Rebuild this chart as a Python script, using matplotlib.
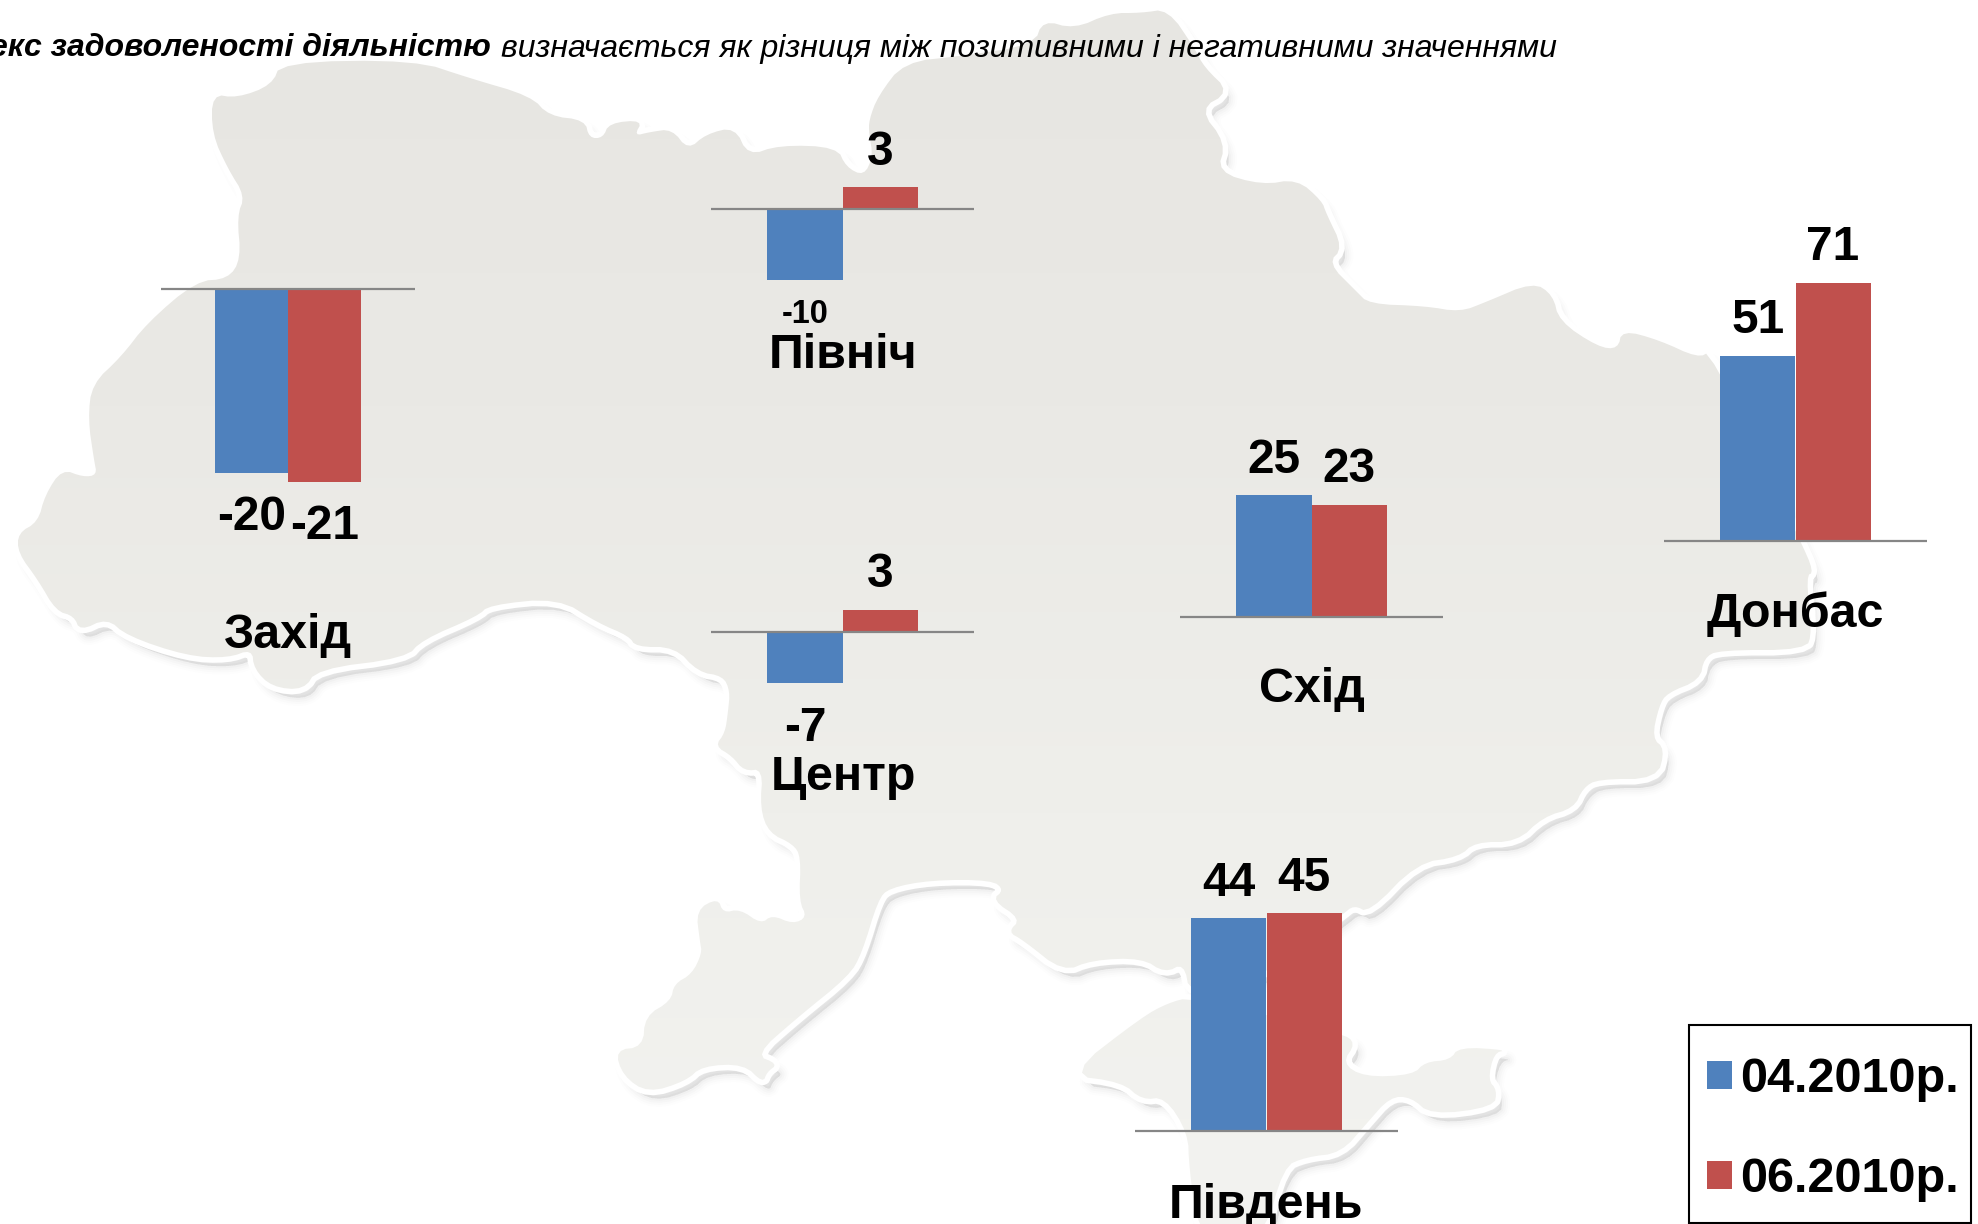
import numpy as np
import matplotlib
matplotlib.use('Agg')
import matplotlib.pyplot as plt
from matplotlib.colors import LinearSegmentedColormap
from matplotlib.patches import PathPatch, Rectangle
from matplotlib.path import Path

plt.rcParams['font.family'] = ['Liberation Sans', 'DejaVu Sans']

W, H = 1978, 1224

regions = ['Захід', 'Північ', 'Центр', 'Схід', 'Донбас', 'Південь']
apr_2010 = [-20, -10, -7, 25, 51, 44]
jun_2010 = [-21, 3, 3, 23, 71, 45]
series_names = ['04.2010р.', '06.2010р.']

title_bold = 'Індекс задоволеності діяльністю'
title_rest = 'визначається як різниця між позитивними і негативними значеннями'

# panel layout in pixels
line_left = [161, 711, 711, 1180, 1664, 1135]
line_right = [415, 974, 974, 1443, 1927, 1398]
baseline = [288.7, 208.5, 631.7, 616.5, 540.7, 1130.7]
px_per_unit = [9.2, 7.15, 7.35, 4.85, 3.63, 4.83]
label_pos = [(288, 635), (843, 355), (843, 778), (1312, 690), (1795, 614), (1266, 1205)]

# outline of the map in the background, pixels
mainland = [(212, 94), (212, 134), (228, 169), (245, 196), (237, 216), (241, 259), (228, 279), (196, 281),
            (147, 323), (121, 357), (92, 384), (88, 419), (94, 460), (97, 475), (83, 477), (62, 469), (45, 495),
            (38, 522), (18, 533), (18, 553), (38, 580), (56, 611), (74, 616), (80, 631), (107, 618), (127, 636),
            (187, 656), (228, 658), (252, 649), (254, 669), (272, 687), (304, 690), (317, 669), (406, 658),
            (422, 640), (478, 616), (489, 605), (558, 598), (598, 623), (629, 636), (636, 647), (675, 647),
            (698, 672), (723, 676), (730, 691), (728, 712), (725, 733), (715, 746), (732, 756), (744, 771),
            (763, 769), (760, 808), (769, 833), (793, 844), (801, 857), (799, 901), (807, 917), (793, 924),
            (772, 915), (761, 924), (740, 909), (723, 913), (718, 898), (696, 910), (700, 942), (702, 953),
            (692, 974), (674, 984), (671, 1001), (645, 1016), (643, 1047), (615, 1050), (623, 1076), (648, 1093),
            (686, 1081), (702, 1066), (744, 1064), (763, 1083), (767, 1072), (778, 1064), (755, 1055), (797, 1018),
            (849, 976), (862, 953), (878, 900), (889, 888), (931, 880), (992, 880), (1004, 890), (992, 900),
            (1021, 919), (1008, 932), (1023, 940), (1063, 972), (1092, 960), (1142, 958), (1165, 973), (1184, 963),
            (1190, 995), (1250, 985), (1342, 915), (1354, 905), (1369, 913), (1417, 863), (1459, 857), (1475, 842),
            (1517, 842), (1543, 817), (1574, 808), (1583, 788), (1598, 779), (1657, 779), (1665, 749), (1652, 738),
            (1659, 706), (1667, 693), (1700, 680), (1704, 658), (1719, 650), (1806, 650), (1812, 632), (1806, 576),
            (1814, 572), (1800, 540), (1711, 351), (1698, 358), (1659, 340), (1622, 330), (1618, 349), (1598, 347),
            (1559, 321), (1553, 295), (1533, 282), (1486, 302), (1460, 312), (1425, 306), (1369, 304), (1356, 291),
            (1328, 263), (1343, 248), (1326, 213), (1322, 201), (1297, 179), (1262, 185), (1217, 172), (1226, 143),
            (1199, 109), (1230, 92), (1204, 67), (1195, 49), (1168, 9), (1141, 13), (1110, 13), (1074, 29), (1043, 20),
            (1034, 45), (962, 56), (904, 62), (878, 96), (869, 120), (869, 134), (873, 156), (864, 176), (846, 167),
            (837, 147), (779, 145), (748, 156), (735, 127), (706, 134), (688, 150), (672, 129), (650, 132), (634, 136),
            (643, 120), (609, 123), (603, 138), (589, 138), (585, 120), (549, 116), (531, 96), (469, 78), (415, 60),
            (281, 62), (272, 85), (237, 98)]
crimea = [(1142, 1017), (1067, 1075), (1122, 1082), (1142, 1100), (1165, 1097), (1188, 1133), (1189, 1167), (1199, 1240),
          (1264, 1240), (1283, 1167), (1306, 1157), (1341, 1153), (1367, 1123), (1390, 1097), (1411, 1097), (1431, 1115),
          (1494, 1107), (1497, 1090), (1488, 1080), (1494, 1053), (1507, 1050), (1459, 1047), (1450, 1060), (1425, 1062),
          (1413, 1075), (1364, 1077), (1342, 1063), (1356, 1043), (1341, 1033), (1191, 997), (1168, 1003)]

blue = '#4F81BD'
red = '#C0504D'
ink = '#000000'


def smooth(points, rounds=2):
    # corner cutting so the border does not look like a polygon
    pts = np.array(points, dtype=float)
    for _ in range(rounds):
        nxt = np.roll(pts, -1, axis=0)
        pts = np.column_stack([0.75 * pts + 0.25 * nxt, 0.25 * pts + 0.75 * nxt]).reshape(-1, 2)
    return pts


def closed(points, dx=0, dy=0):
    pts = smooth(points) + (dx, dy)
    return Path(np.vstack([pts, pts[0]]), closed=True)


fig = plt.figure(figsize=(W / 100, H / 100), dpi=100, facecolor='white')
bg = fig.add_axes([0, 0, 1, 1], zorder=0)
bg.set_xlim(0, W)
bg.set_ylim(H, 0)
bg.axis('off')

# soft shadow, white rim and gradient fill of the map
for outline in (mainland, crimea):
    for lw, a in ((12, 0.008), (9, 0.011), (6, 0.014), (3, 0.018)):
        bg.add_patch(PathPatch(closed(outline, 6, 9), facecolor=(0, 0, 0, 0.02), edgecolor=(0, 0, 0, a), lw=lw,
                               joinstyle='round'))
for outline in (mainland, crimea):
    bg.add_patch(PathPatch(closed(outline), facecolor='white', edgecolor='white', lw=8, joinstyle='round'))
map_path = Path.make_compound_path(closed(mainland), closed(crimea))
clip = PathPatch(map_path, facecolor='none', edgecolor='none', transform=bg.transData)
bg.add_patch(clip)
cmap = LinearSegmentedColormap.from_list('map', ['#E7E6E2', '#EAE9E5', '#EFEFEB', '#F3F3F0'])
grad = bg.imshow(np.linspace(0, 1, 256).reshape(-1, 1), cmap=cmap, extent=(0, W, H, 0), aspect='auto', zorder=2)
grad.set_clip_path(clip)
bg.set_xlim(0, W)
bg.set_ylim(H, 0)

bg.text(491, 48.5, title_bold, ha='right', va='center', fontsize=23, style='italic', weight='bold', color=ink, zorder=5,
        clip_on=True)
bg.text(501, 48.5, title_rest, ha='left', va='center', fontsize=23, style='italic', color=ink, zorder=5)

handles = None
for i, name in enumerate(regions):
    left, right = line_left[i], line_right[i]
    ax = fig.add_axes([left / W, 0, (right - left) / W, 1], zorder=1)
    ax.patch.set_alpha(0)
    ax.axis('off')
    ax.set_xlim(-1.25, 2.25)
    ax.set_ylim(-(H - baseline[i]) / px_per_unit[i], baseline[i] / px_per_unit[i])
    b1 = ax.bar(0, apr_2010[i], width=1, color=blue, linewidth=0, antialiased=False)
    b2 = ax.bar(1, jun_2010[i], width=1, color=red, linewidth=0, antialiased=False)
    ax.axhline(0, color='#868686', lw=1.6)
    if handles is None:
        handles = [b1, b2]
    for x, v in ((0, apr_2010[i]), (1, jun_2010[i])):
        small = v == -10
        off = -34 if small else (-45 if v < 0 else 35)
        ax.annotate(str(v), xy=(x, v), xytext=(0, off), textcoords='offset pixels', ha='center', va='center',
                    fontsize=23.5 if small else 34.5, weight='bold', color=ink, clip_on=False)
    bg.text(label_pos[i][0], label_pos[i][1], name, ha='center', va='center', fontsize=34.8, weight='bold', color=ink,
            zorder=5)

# legend box is a bit taller than its entries, so the frame is drawn apart
bg.add_patch(Rectangle((1689, 1025), 282, 198, facecolor='white', edgecolor='black', lw=1.5, zorder=6))
leg = fig.legend(handles, series_names, loc='upper left', bbox_to_anchor=(1707 / W, 1 - 1057 / H),
                 bbox_transform=fig.transFigure, prop={'size': 35, 'weight': 'bold'}, frameon=False,
                 handlelength=0.52, handleheight=0.52, handletextpad=0.17,
                 labelspacing=1.13, borderaxespad=0, borderpad=0)
leg.set_zorder(10)

fig.savefig('out.png', dpi=100)
